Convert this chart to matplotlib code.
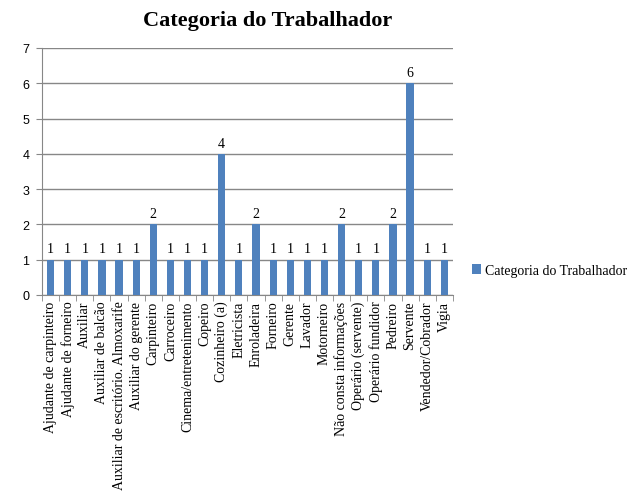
import numpy as np
import matplotlib.pyplot as plt

categorias = [
    "Ajudante de carpinteiro", "Ajudante de forneiro", "Auxiliar",
    "Auxiliar de balcão", "Auxiliar de escritório. Almoxarife",
    "Auxiliar do gerente", "Carpinteiro", "Carroceiro",
    "Cinema/entretenimento", "Copeiro", "Cozinheiro (a)", "Eletricista",
    "Enroladeira", "Forneiro", "Gerente", "Lavador", "Motorneiro",
    "Não consta informações", "Operário (servente)", "Operário fundidor",
    "Pedreiro", "Servente", "Vendedor/Cobrador", "Vigia",
]
valores = [1, 1, 1, 1, 1, 1, 2, 1, 1, 1, 4, 1, 2, 1, 1, 1, 1, 2, 1, 1, 2, 6, 1, 1]
serie = "Categoria do Trabalhador"

cor = "#4F81BD"
cinza = "#878787"
serif = ["Liberation Serif", "DejaVu Serif"]
sans = ["Liberation Sans", "DejaVu Sans"]

fig = plt.figure(figsize=(6.41, 5.02), dpi=100)
ax = fig.add_axes([0.0655, 0.4104, 0.641, 0.492])

x = np.arange(len(categorias))
barras = ax.bar(x, valores, width=0.42, color=cor, label=serie, zorder=3)
for b, v in zip(barras, valores):
    ax.text(b.get_x() + b.get_width() / 2, v + 0.12, str(v), ha="center",
            va="bottom", fontsize=10, family=serif)

ax.set_xlim(-0.5, len(categorias) - 0.5)
ax.set_ylim(0, 7)
ax.set_yticks(range(8))
ax.set_yticklabels([str(i) for i in range(8)], family=sans, fontsize=9)
ax.yaxis.grid(True, color=cinza, linewidth=1, zorder=0)
ax.set_axisbelow(True)

ax.set_xticks(x)
ax.set_xticklabels(categorias, rotation=90, fontsize=10, family=serif)
ax.tick_params(axis="x", length=0, pad=4)
ax.set_xticks(np.arange(-0.5, len(categorias)), minor=True)
ax.tick_params(axis="x", which="minor", length=4, color=cinza)
ax.tick_params(axis="y", length=4, color=cinza, pad=5)

for s in ["top", "right"]:
    ax.spines[s].set_visible(False)
for s in ["left", "bottom"]:
    ax.spines[s].set_color(cinza)

fig.suptitle(serie, x=0.418, y=0.978, fontsize=16, fontweight="bold", family=serif)

leg = ax.legend(loc="center left", bbox_to_anchor=(1.015, 0.1), frameon=False,
                handlelength=0.65, handleheight=0.65, handletextpad=0.3,
                prop={"family": serif, "size": 10})

fig.savefig("out.png", dpi=100)
